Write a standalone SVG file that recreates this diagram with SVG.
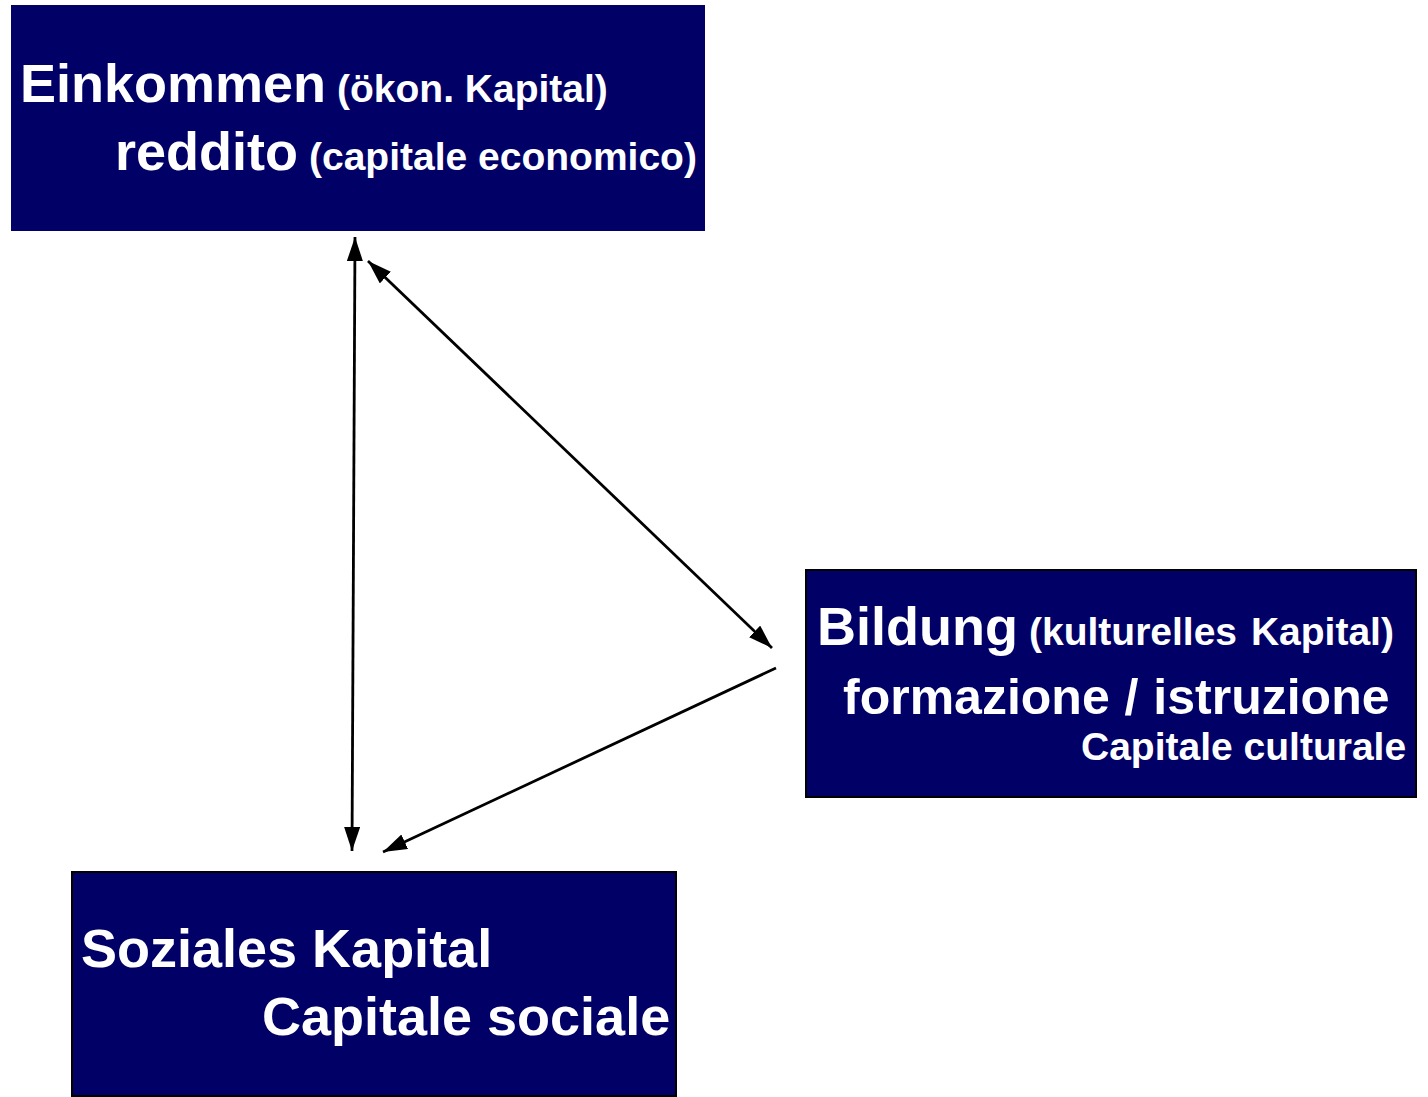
<svg xmlns="http://www.w3.org/2000/svg" width="1428" height="1097" viewBox="0 0 1428 1097">
  <style>
    .box { fill: #000066; }
    .bordered { stroke: #000000; stroke-width: 2; }
    .t { font-family: "Liberation Sans", Arial, sans-serif; font-weight: bold; fill: #ffffff; }
    .big { font-size: 54px; }
    .mid { font-size: 50px; }
    .small { font-size: 39px; }
    .conn { stroke: #000000; stroke-width: 2.8; fill: none; }
  </style>
  <defs>
    <marker id="ah" markerUnits="userSpaceOnUse" markerWidth="26" markerHeight="18" refX="24" refY="8" orient="auto-start-reverse" viewBox="0 0 26 18">
      <path d="M0,0 L24,8 L0,16 z" fill="#000000"/>
    </marker>
  </defs>
  <rect width="1428" height="1097" fill="#ffffff"/>

  <g id="node-einkommen">
    <rect class="box" x="11" y="5" width="694" height="226"/>
    <text class="t" y="102"><tspan class="big" x="20">Einkommen</tspan><tspan class="small" x="337">(ökon. Kapital)</tspan></text>
    <text class="t" y="170"><tspan class="big" x="115">reddito</tspan><tspan class="small" x="309">(capitale economico)</tspan></text>
  </g>

  <g id="node-bildung">
    <rect class="box bordered" x="806" y="570" width="610" height="227"/>
    <text class="t" y="645"><tspan class="big" x="817">Bildung</tspan><tspan class="small" x="1029" word-spacing="3">(kulturelles Kapital)</tspan></text>
    <text class="t mid" x="843" y="714" word-spacing="1">formazione / istruzione</text>
    <text class="t small" x="1081" y="760">Capitale culturale</text>
  </g>

  <g id="node-sozial">
    <rect class="box bordered" x="72" y="872" width="604" height="224"/>
    <text class="t big" x="81" y="967">Soziales Kapital</text>
    <text class="t big" x="262" y="1035">Capitale sociale</text>
  </g>

  <g id="connectors">
    <line class="conn" x1="355" y1="237" x2="352" y2="851" marker-start="url(#ah)" marker-end="url(#ah)"/>
    <line class="conn" x1="368" y1="261" x2="772" y2="648" marker-start="url(#ah)" marker-end="url(#ah)"/>
    <line class="conn" x1="776" y1="668" x2="383" y2="852" marker-end="url(#ah)"/>
  </g>
</svg>
